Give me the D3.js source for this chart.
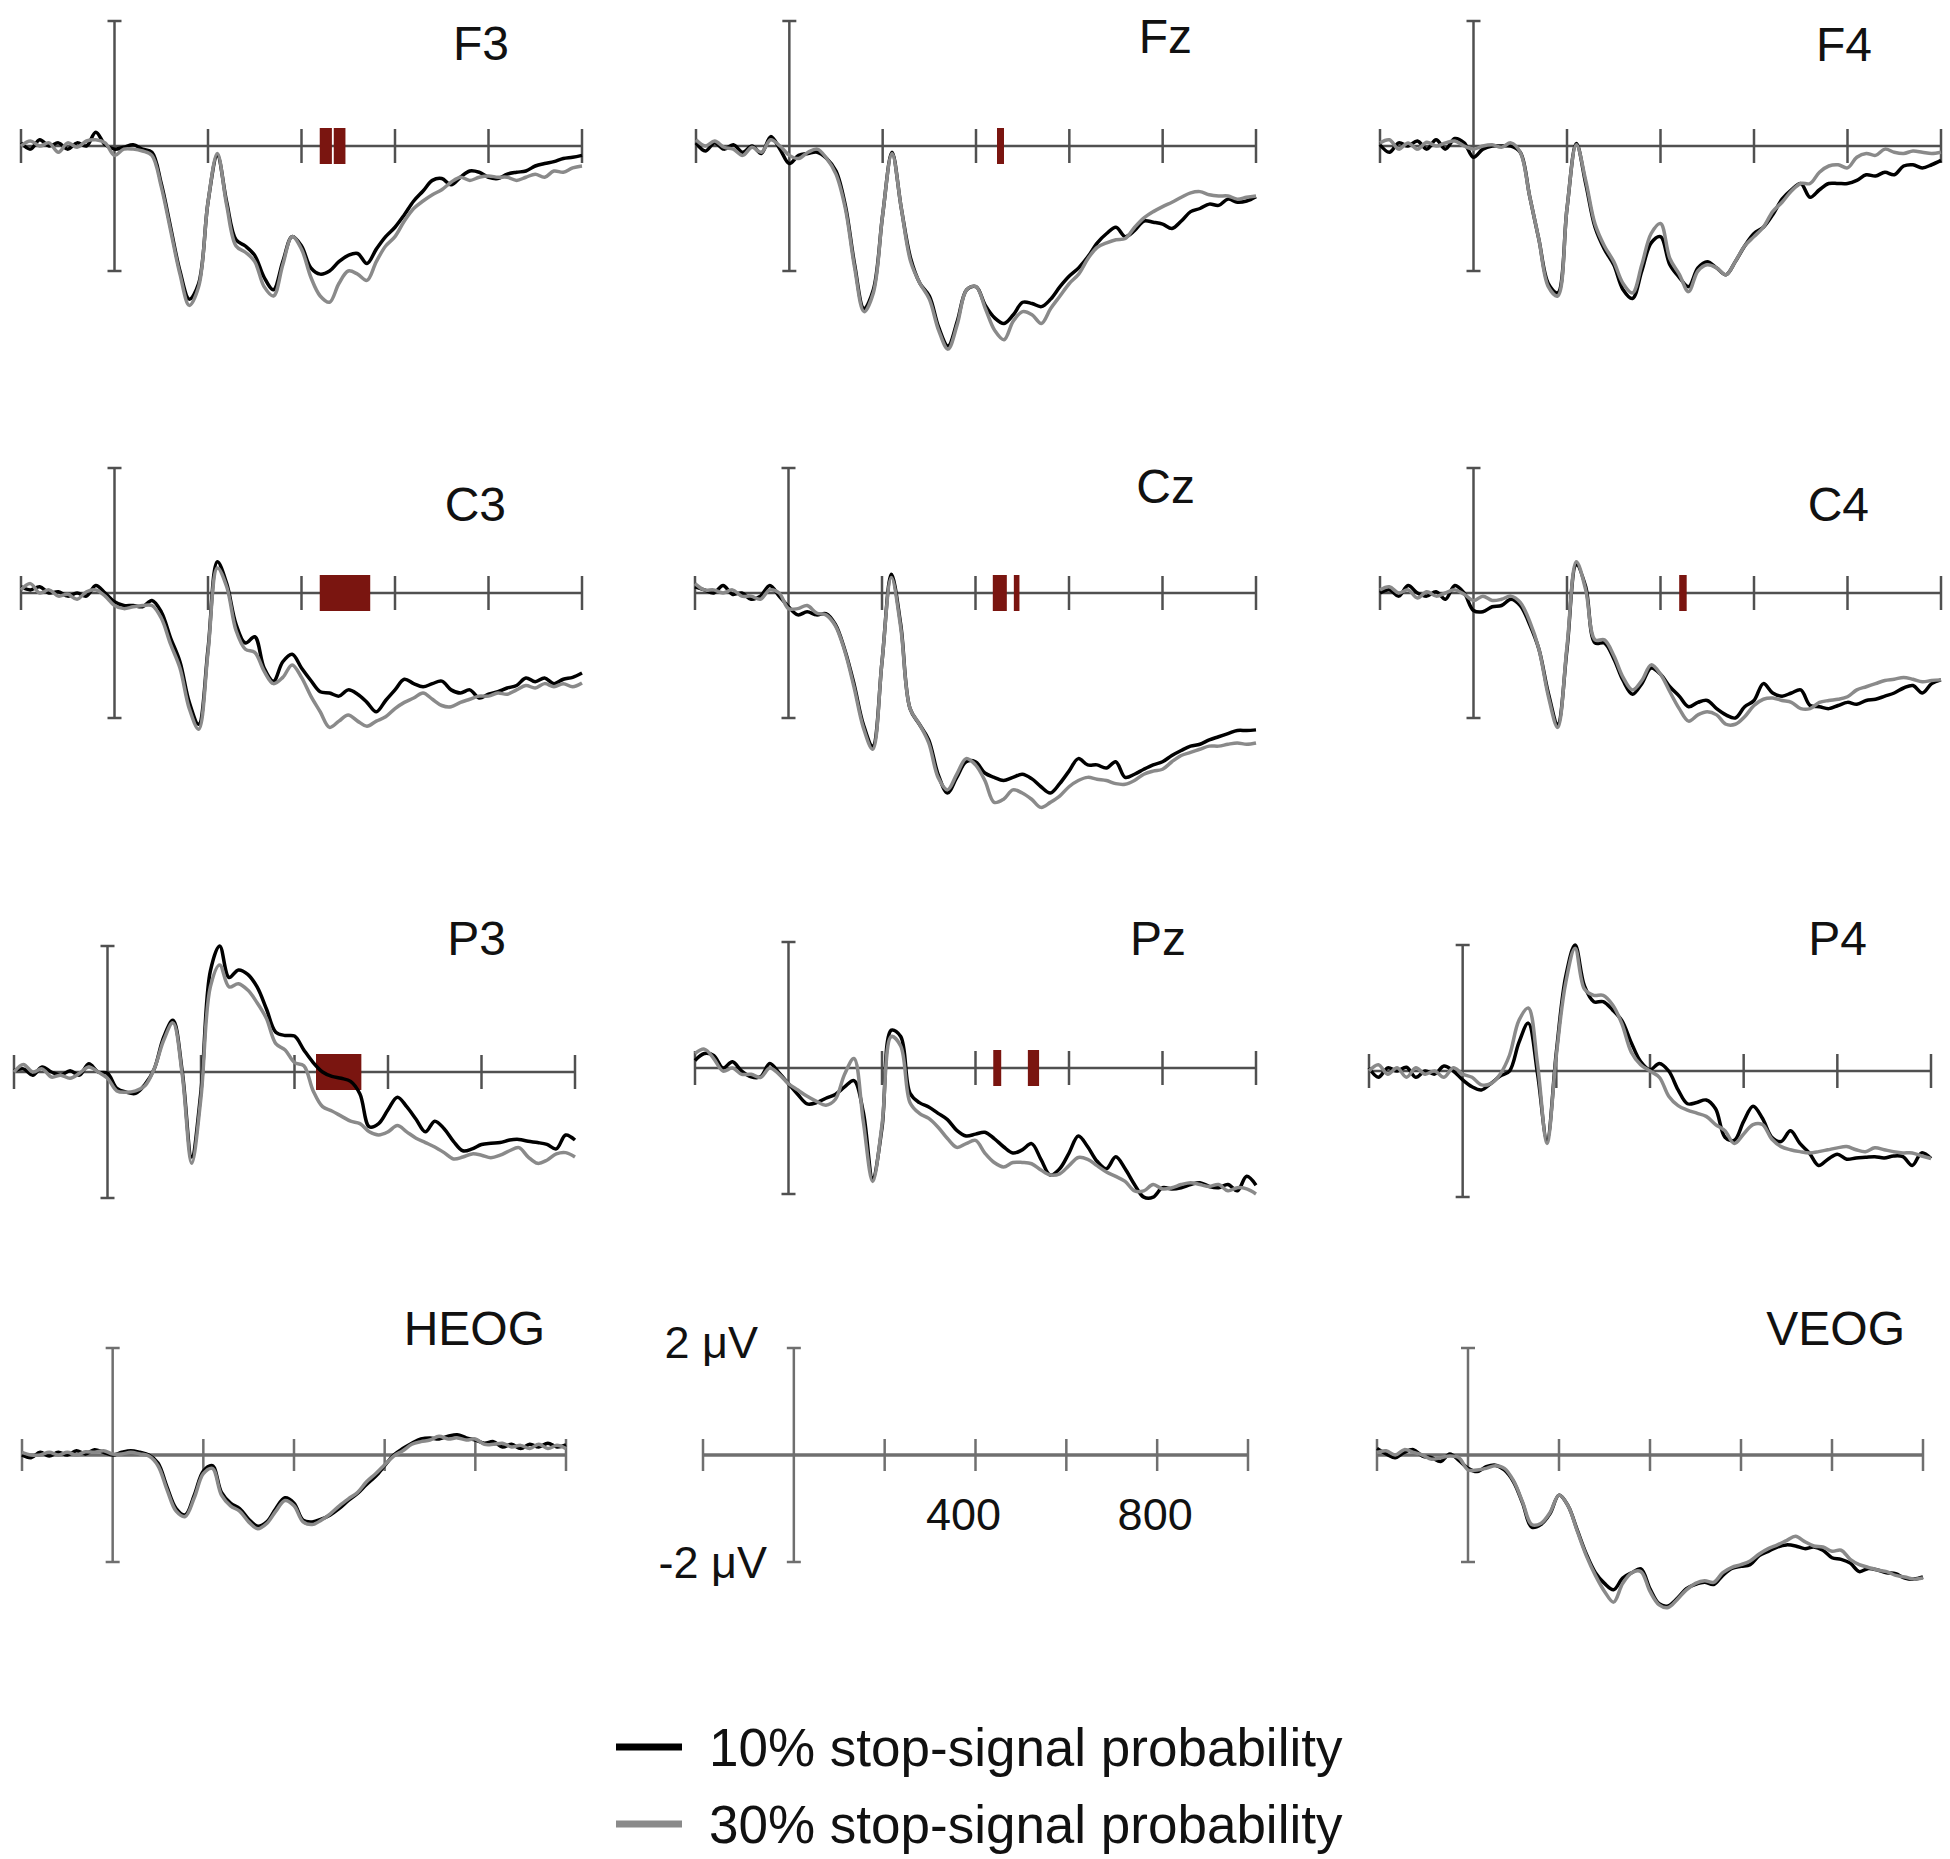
<!DOCTYPE html>
<html>
<head>
<meta charset="utf-8">
<script src="https://cdn.jsdelivr.net/npm/d3@7"></script>
<style>
  body { margin: 0; background: #fff; }
  text { font-family: "Liberation Sans", Arial, sans-serif; fill: #111; }
</style>
</head>
<body>
<div id="chart"></div>
<script>
// sampling grid (ms)
var times = [-200,-180,-160,-140,-120,-100,-80,-60,-40,-20,0,20,40,60,80,100,120,140,160,180,200,
  220,240,260,280,300,320,340,360,380,400,420,440,460,480,500,520,540,560,580,600,
  620,640,660,680,700,720,740,760,780,800,820,840,860,880,900,920,940,960,980,1000];

// amplitudes in microvolts, 10% = black, 30% = gray
var f3Ten = [0.05,-0.05,0.1,0,0.05,-0.05,0.05,0,0.22,0.02,-0.05,-0.02,0.02,-0.05,-0.1,-0.6,-1.3,-2.0,-2.45,-2.2,-0.9,
  -0.15,-0.9,-1.5,-1.6,-1.75,-2.1,-2.3,-1.85,-1.45,-1.6,-1.95,-2.05,-2.0,-1.85,-1.75,-1.72,-1.88,-1.65,-1.45,-1.3,
  -1.1,-0.88,-0.72,-0.55,-0.52,-0.62,-0.5,-0.4,-0.42,-0.5,-0.52,-0.45,-0.42,-0.4,-0.32,-0.28,-0.25,-0.2,-0.18,-0.15];
var f3Thirty = [0,0.08,0,0.05,-0.1,0.05,-0.02,0.08,0.1,0.05,-0.15,-0.05,-0.05,-0.08,-0.15,-0.65,-1.35,-2.05,-2.55,-2.25,-0.9,
  -0.12,-0.95,-1.6,-1.7,-1.85,-2.25,-2.4,-1.9,-1.45,-1.65,-2.1,-2.4,-2.5,-2.2,-2.0,-2.05,-2.15,-1.85,-1.6,-1.45,
  -1.2,-1.0,-0.88,-0.78,-0.7,-0.58,-0.5,-0.55,-0.5,-0.48,-0.5,-0.5,-0.55,-0.5,-0.45,-0.5,-0.4,-0.42,-0.35,-0.32];

var fzTen = [0.05,-0.08,0.05,-0.05,0.02,-0.1,0,-0.12,0.15,-0.05,-0.28,-0.15,-0.12,-0.1,-0.2,-0.4,-0.95,-1.9,-2.6,-2.3,-1.1,
  -0.1,-1.0,-1.8,-2.2,-2.4,-2.9,-3.2,-2.8,-2.3,-2.25,-2.55,-2.75,-2.84,-2.7,-2.5,-2.52,-2.57,-2.45,-2.25,-2.08,
  -1.95,-1.77,-1.55,-1.4,-1.3,-1.45,-1.35,-1.2,-1.22,-1.25,-1.32,-1.2,-1.05,-1.0,-0.93,-0.95,-0.85,-0.9,-0.88,-0.81];
var fzThirty = [0.1,0,0.08,-0.02,-0.05,-0.15,-0.02,-0.1,0.1,0,-0.15,-0.2,-0.1,-0.05,-0.2,-0.45,-1.0,-1.95,-2.65,-2.35,-1.1,
  -0.12,-1.0,-1.85,-2.2,-2.45,-2.95,-3.25,-2.85,-2.3,-2.25,-2.6,-2.95,-3.1,-2.8,-2.65,-2.7,-2.84,-2.6,-2.4,-2.2,
  -2.05,-1.8,-1.62,-1.55,-1.5,-1.48,-1.3,-1.15,-1.05,-0.97,-0.9,-0.82,-0.75,-0.73,-0.78,-0.8,-0.8,-0.85,-0.82,-0.8];

var f4Ten = [0.02,-0.1,0.05,0,0.08,-0.05,0.1,-0.05,0.12,0.05,-0.18,-0.05,0,0,0,-0.1,-0.8,-1.5,-2.2,-2.35,-1.0,
  0.04,-0.6,-1.3,-1.65,-1.9,-2.3,-2.44,-2.0,-1.55,-1.45,-1.9,-2.1,-2.25,-1.95,-1.85,-1.95,-2.06,-1.85,-1.6,-1.4,
  -1.3,-1.1,-0.85,-0.7,-0.6,-0.82,-0.7,-0.6,-0.6,-0.6,-0.55,-0.46,-0.48,-0.42,-0.46,-0.32,-0.3,-0.35,-0.3,-0.23];
var f4Thirty = [0.05,0.1,-0.05,0.05,-0.05,0.06,0,0.05,0.08,0,-0.05,0,0.02,-0.02,0.05,-0.1,-0.8,-1.5,-2.25,-2.4,-1.0,
  0.02,-0.55,-1.25,-1.6,-1.85,-2.2,-2.35,-1.9,-1.4,-1.24,-1.8,-2.05,-2.33,-2.0,-1.9,-1.95,-2.06,-1.85,-1.6,-1.45,
  -1.3,-1.05,-0.9,-0.72,-0.6,-0.6,-0.42,-0.32,-0.3,-0.35,-0.18,-0.12,-0.15,-0.05,-0.1,-0.12,-0.08,-0.1,-0.12,-0.1];

var c3Ten = [0.1,0.05,0.1,0,0.02,-0.05,0,-0.05,0.12,0,-0.14,-0.2,-0.2,-0.22,-0.12,-0.3,-0.72,-1.1,-1.75,-2.1,-0.9,
  0.5,0.15,-0.5,-0.8,-0.7,-1.2,-1.41,-1.1,-0.98,-1.2,-1.4,-1.58,-1.6,-1.65,-1.55,-1.62,-1.75,-1.9,-1.72,-1.55,
  -1.38,-1.45,-1.5,-1.45,-1.41,-1.55,-1.6,-1.55,-1.68,-1.62,-1.58,-1.52,-1.48,-1.36,-1.42,-1.36,-1.45,-1.38,-1.35,-1.28];
var c3Thirty = [0.05,0.15,0,0.05,-0.05,-0.02,-0.1,0.02,0.05,-0.05,-0.2,-0.25,-0.22,-0.2,-0.2,-0.4,-0.82,-1.2,-1.85,-2.18,-0.95,
  0.4,0.1,-0.6,-0.9,-0.95,-1.25,-1.45,-1.35,-1.15,-1.35,-1.65,-1.9,-2.15,-2.05,-1.95,-2.05,-2.13,-2.05,-1.98,-1.85,
  -1.75,-1.68,-1.6,-1.7,-1.8,-1.82,-1.75,-1.7,-1.65,-1.65,-1.6,-1.62,-1.55,-1.48,-1.52,-1.45,-1.5,-1.45,-1.5,-1.44];

var czTen = [0.1,0.05,0,0.12,-0.02,0,-0.1,-0.05,0.12,-0.05,-0.22,-0.35,-0.3,-0.35,-0.33,-0.5,-0.9,-1.45,-2.1,-2.45,-1.1,
  0.3,-0.5,-1.85,-2.1,-2.35,-2.9,-3.2,-2.95,-2.7,-2.7,-2.88,-2.95,-3.0,-2.95,-2.9,-2.97,-3.1,-3.2,-3.05,-2.85,
  -2.65,-2.75,-2.75,-2.8,-2.7,-2.95,-2.9,-2.82,-2.75,-2.7,-2.6,-2.52,-2.45,-2.42,-2.35,-2.3,-2.25,-2.2,-2.2,-2.19];
var czThirty = [0.15,0.05,0.05,0,0.05,-0.05,-0.05,-0.1,0.05,0,-0.25,-0.25,-0.2,-0.32,-0.35,-0.52,-0.92,-1.5,-2.15,-2.5,-1.1,
  0.25,-0.55,-1.85,-2.1,-2.4,-2.95,-3.15,-2.9,-2.65,-2.75,-3.0,-3.35,-3.3,-3.15,-3.2,-3.3,-3.43,-3.35,-3.25,-3.1,
  -3.0,-2.95,-2.98,-3.0,-3.05,-3.06,-3.0,-2.9,-2.85,-2.82,-2.7,-2.6,-2.55,-2.5,-2.45,-2.45,-2.42,-2.4,-2.42,-2.4];

var c4Ten = [0,0.05,-0.05,0.12,0,-0.05,0.02,-0.1,0.12,0,-0.28,-0.3,-0.22,-0.2,-0.1,-0.2,-0.5,-0.9,-1.6,-2.1,-0.9,
  0.45,0.1,-0.8,-0.8,-1.05,-1.4,-1.62,-1.45,-1.2,-1.3,-1.5,-1.65,-1.82,-1.75,-1.72,-1.85,-1.95,-2.0,-1.82,-1.72,
  -1.45,-1.6,-1.65,-1.6,-1.55,-1.8,-1.82,-1.85,-1.8,-1.75,-1.78,-1.72,-1.7,-1.65,-1.6,-1.52,-1.48,-1.6,-1.45,-1.39];
var c4Thirty = [0.05,0.1,0,0.05,-0.08,0.02,-0.05,0,0.05,-0.02,-0.12,-0.05,-0.12,-0.1,-0.05,-0.15,-0.45,-0.9,-1.65,-2.15,-0.85,
  0.5,0.05,-0.75,-0.75,-1.0,-1.35,-1.55,-1.4,-1.15,-1.3,-1.58,-1.85,-2.05,-1.95,-1.9,-1.95,-2.1,-2.1,-1.98,-1.8,
  -1.7,-1.68,-1.72,-1.75,-1.85,-1.85,-1.75,-1.72,-1.7,-1.66,-1.55,-1.5,-1.45,-1.4,-1.38,-1.35,-1.38,-1.42,-1.4,-1.39];

var p3Ten = [0.02,0.05,-0.05,0.08,0,-0.05,0.02,-0.05,0.13,0,-0.02,-0.26,-0.32,-0.34,-0.2,0.05,0.55,0.82,0,-1.35,-0.3,
  1.6,2.0,1.5,1.62,1.55,1.35,1.0,0.63,0.58,0.57,0.35,0.15,0,-0.07,-0.1,-0.15,-0.35,-0.87,-0.82,-0.6,
  -0.4,-0.55,-0.75,-0.95,-0.78,-0.9,-1.1,-1.25,-1.22,-1.15,-1.13,-1.12,-1.08,-1.07,-1.1,-1.12,-1.15,-1.22,-1.0,-1.08];
var p3Thirty = [0,0.12,0,0.05,-0.08,-0.05,-0.1,-0.02,0.08,0,-0.1,-0.3,-0.32,-0.3,-0.22,0.05,0.5,0.78,-0.05,-1.45,-0.4,
  1.35,1.7,1.35,1.4,1.3,1.1,0.85,0.45,0.35,0.15,0.1,-0.3,-0.55,-0.62,-0.7,-0.78,-0.82,-0.95,-1.0,-0.95,
  -0.85,-0.95,-1.05,-1.12,-1.19,-1.28,-1.38,-1.35,-1.3,-1.32,-1.36,-1.32,-1.25,-1.2,-1.35,-1.45,-1.4,-1.3,-1.28,-1.35];

var pzTen = [0.12,0.23,0.2,0,0.1,-0.05,-0.14,-0.14,0.07,-0.08,-0.25,-0.42,-0.57,-0.55,-0.48,-0.42,-0.3,-0.2,-0.7,-1.75,-0.95,
  0.6,0.5,-0.4,-0.55,-0.62,-0.72,-0.82,-0.99,-1.08,-1.05,-1.02,-1.12,-1.25,-1.35,-1.3,-1.2,-1.45,-1.7,-1.6,-1.35,
  -1.08,-1.25,-1.48,-1.6,-1.41,-1.6,-1.85,-2.05,-2.05,-1.9,-1.92,-1.9,-1.85,-1.82,-1.88,-1.9,-1.85,-1.95,-1.72,-1.86];
var pzThirty = [0.23,0.3,0.15,-0.05,0,-0.1,-0.1,-0.15,0,-0.1,-0.25,-0.35,-0.45,-0.53,-0.59,-0.5,-0.1,0.15,-0.85,-1.8,-0.9,
  0.5,0.35,-0.55,-0.72,-0.8,-0.94,-1.12,-1.26,-1.2,-1.15,-1.35,-1.5,-1.57,-1.5,-1.5,-1.52,-1.62,-1.7,-1.68,-1.55,
  -1.42,-1.45,-1.55,-1.65,-1.72,-1.8,-1.95,-1.95,-1.85,-1.92,-1.9,-1.85,-1.82,-1.85,-1.88,-1.85,-1.95,-1.9,-1.92,-2.0];

var p4Ten = [0.05,-0.1,0.05,0,0.06,-0.1,0,-0.05,0.08,0,-0.14,-0.25,-0.3,-0.2,-0.08,0,0.45,0.76,-0.05,-1.1,0.3,
  1.5,2.0,1.35,1.1,1.1,0.97,0.8,0.45,0.15,0.02,0.12,0,-0.3,-0.52,-0.5,-0.46,-0.6,-1.05,-1.1,-0.8,
  -0.56,-0.75,-1.05,-1.12,-0.95,-1.15,-1.3,-1.5,-1.4,-1.32,-1.4,-1.38,-1.37,-1.36,-1.38,-1.35,-1.36,-1.5,-1.3,-1.39];
var p4Thirty = [0,0.1,-0.05,0.05,-0.1,0.05,-0.05,0,-0.1,0.05,-0.05,-0.1,-0.22,-0.2,-0.05,0.25,0.8,1.0,0.1,-1.15,0.25,
  1.4,1.95,1.3,1.2,1.2,1.05,0.75,0.3,0.1,0,-0.1,-0.4,-0.55,-0.62,-0.67,-0.72,-0.85,-0.95,-1.15,-1.0,
  -0.85,-0.85,-1.08,-1.2,-1.25,-1.28,-1.3,-1.28,-1.25,-1.22,-1.2,-1.25,-1.28,-1.22,-1.25,-1.28,-1.3,-1.3,-1.35,-1.39];

var heogTen = [0,-0.05,0.05,-0.02,0.05,0,0.08,0.02,0.1,0.05,0,0.05,0.08,0.05,0,-0.15,-0.6,-1.0,-1.12,-0.75,-0.3,
  -0.2,-0.7,-0.9,-1.0,-1.2,-1.33,-1.25,-1.0,-0.8,-0.9,-1.22,-1.25,-1.2,-1.12,-1.0,-0.85,-0.72,-0.55,-0.4,-0.2,
  0,0.12,0.22,0.3,0.32,0.3,0.35,0.38,0.32,0.28,0.22,0.25,0.15,0.2,0.12,0.2,0.15,0.22,0.15,0.19];
var heogThirty = [0.05,0,0,0.05,0,0.05,0,0.06,0.05,0.08,0.02,0.02,0.05,0.02,-0.02,-0.2,-0.65,-1.05,-1.15,-0.8,-0.35,
  -0.25,-0.75,-0.95,-1.05,-1.25,-1.38,-1.28,-1.05,-0.85,-0.95,-1.25,-1.3,-1.22,-1.1,-0.95,-0.82,-0.7,-0.5,-0.35,-0.18,
  -0.02,0.08,0.2,0.25,0.28,0.35,0.3,0.32,0.28,0.3,0.2,0.2,0.22,0.15,0.18,0.12,0.2,0.12,0.18,0.12];

var veogTen = [0.12,0.02,-0.05,0.05,0.1,-0.02,-0.05,-0.12,0.02,-0.1,-0.25,-0.31,-0.22,-0.19,-0.28,-0.5,-0.9,-1.35,-1.3,-1.1,-0.75,
  -0.95,-1.4,-1.85,-2.2,-2.4,-2.52,-2.3,-2.2,-2.13,-2.5,-2.78,-2.82,-2.68,-2.5,-2.42,-2.38,-2.42,-2.25,-2.12,-2.08,
  -2.05,-1.88,-1.8,-1.72,-1.68,-1.7,-1.75,-1.72,-1.78,-1.92,-1.95,-2.02,-2.18,-2.12,-2.15,-2.2,-2.22,-2.3,-2.32,-2.28];
var veogThirty = [0.05,0.08,0,0.1,0.05,0,-0.08,-0.05,-0.02,-0.05,-0.28,-0.28,-0.25,-0.2,-0.25,-0.48,-0.88,-1.3,-1.28,-1.08,-0.75,
  -0.95,-1.42,-1.88,-2.25,-2.55,-2.75,-2.4,-2.2,-2.18,-2.55,-2.8,-2.85,-2.7,-2.52,-2.4,-2.35,-2.38,-2.2,-2.1,-2.05,
  -1.98,-1.85,-1.75,-1.68,-1.6,-1.52,-1.62,-1.7,-1.72,-1.8,-1.78,-1.95,-2.05,-2.1,-2.15,-2.18,-2.25,-2.28,-2.32,-2.3];

// significant intervals (ms)
var f3Sig = [[439, 465], [469, 494]];
var fzSig = [[445, 460]];
var c3Sig = [[439, 547]];
var czSig = [[437, 467], [482, 494]];
var c4Sig = [[440, 456]];
var p3Sig = [[446, 543]];
var pzSig = [[438, 455], [512, 536]];

var xTicks = [-200, 200, 400, 600, 800, 1000];
var calLabels = [400, 800];
var legendLabels = ["10% stop-signal probability", "30% stop-signal probability"];
var conditionColors = ["#000000", "#8a8a8a"];

// layout for each electrode panel
var panels = [
  {name: "F3", ten: f3Ten, thirty: f3Thirty, sig: f3Sig, x0: 21, x1: 582, base: 146, half: 125, tx: 509, ty: 60, small: false},
  {name: "Fz", ten: fzTen, thirty: fzThirty, sig: fzSig, x0: 696, x1: 1256, base: 146, half: 125, tx: 1192, ty: 53, small: false},
  {name: "F4", ten: f4Ten, thirty: f4Thirty, sig: [], x0: 1380, x1: 1941, base: 146, half: 125, tx: 1872, ty: 61, small: false},
  {name: "C3", ten: c3Ten, thirty: c3Thirty, sig: c3Sig, x0: 21, x1: 582, base: 593, half: 125, tx: 506, ty: 521, small: false},
  {name: "Cz", ten: czTen, thirty: czThirty, sig: czSig, x0: 695, x1: 1256, base: 593, half: 125, tx: 1195, ty: 503, small: false},
  {name: "C4", ten: c4Ten, thirty: c4Thirty, sig: c4Sig, x0: 1380, x1: 1941, base: 593, half: 125, tx: 1869, ty: 521, small: false},
  {name: "P3", ten: p3Ten, thirty: p3Thirty, sig: p3Sig, x0: 14, x1: 575, base: 1072, half: 126, tx: 506, ty: 955, small: false},
  {name: "Pz", ten: pzTen, thirty: pzThirty, sig: pzSig, x0: 695, x1: 1256, base: 1068, half: 126, tx: 1186, ty: 955, small: false},
  {name: "P4", ten: p4Ten, thirty: p4Thirty, sig: [], x0: 1369, x1: 1931, base: 1071, half: 126, tx: 1867, ty: 955, small: false},
  {name: "HEOG", ten: heogTen, thirty: heogThirty, sig: [], x0: 22, x1: 566, base: 1455, half: 107, tx: 545, ty: 1345, small: true},
  {name: "VEOG", ten: veogTen, thirty: veogThirty, sig: [], x0: 1377, x1: 1923, base: 1455, half: 107, tx: 1905, ty: 1345, small: true}
];

var svg = d3.select("#chart").append("svg")
    .attr("width", 1950)
    .attr("height", 1859)
    .style("background", "#fff");

function drawAxes(g, x, y, p) {
    var axisColor = p.small ? "#6f6f6f" : "#505050";
    var axisWidth = p.small ? 3.5 : 2.5;
    var tickLen = p.small ? 16 : 17;

    g.append("line")
        .attr("x1", x(-200)).attr("x2", x(1000))
        .attr("y1", y(0)).attr("y2", y(0))
        .attr("stroke", axisColor).attr("stroke-width", axisWidth);

    g.selectAll(".tick")
        .data(xTicks)
        .enter().append("line")
        .attr("x1", d => x(d)).attr("x2", d => x(d))
        .attr("y1", y(0) - tickLen).attr("y2", y(0) + tickLen)
        .attr("stroke", axisColor).attr("stroke-width", 2.5);

    g.append("line")
        .attr("x1", x(0)).attr("x2", x(0))
        .attr("y1", y(2)).attr("y2", y(-2))
        .attr("stroke", axisColor).attr("stroke-width", 2.5);
    [2, -2].forEach(function (v) {
        g.append("line")
            .attr("x1", x(0) - 7).attr("x2", x(0) + 7)
            .attr("y1", y(v)).attr("y2", y(v))
            .attr("stroke", axisColor).attr("stroke-width", 2.5);
    });
}

panels.forEach(function (p) {
    var x = d3.scaleLinear().domain([-200, 1000]).range([p.x0, p.x1]);
    var y = d3.scaleLinear().domain([-2, 2]).range([p.base + p.half, p.base - p.half]);
    var g = svg.append("g");

    drawAxes(g, x, y, p);

    // significance markers
    g.selectAll(".sig")
        .data(p.sig)
        .enter().append("rect")
        .attr("x", d => x(d[0]))
        .attr("width", d => x(d[1]) - x(d[0]))
        .attr("y", y(0) - 18)
        .attr("height", 36)
        .attr("fill", "#7a1510");

    var line = d3.line()
        .x((d, i) => x(times[i]))
        .y(d => y(d))
        .curve(d3.curveCatmullRom.alpha(0.5));

    g.append("path")
        .attr("d", line(p.ten))
        .attr("fill", "none")
        .attr("stroke", conditionColors[0])
        .attr("stroke-width", 3.5)
        .attr("stroke-linejoin", "round");
    g.append("path")
        .attr("d", line(p.thirty))
        .attr("fill", "none")
        .attr("stroke", conditionColors[1])
        .attr("stroke-width", 3.5)
        .attr("stroke-linejoin", "round");

    g.append("text")
        .text(p.name)
        .attr("x", p.tx)
        .attr("y", p.ty)
        .attr("text-anchor", "end")
        .attr("font-size", 48);
});

// calibration panel
var calX = d3.scaleLinear().domain([-200, 1000]).range([703, 1248]);
var calY = d3.scaleLinear().domain([-2, 2]).range([1562, 1348]);
var cal = svg.append("g");
drawAxes(cal, calX, calY, {small: true});
cal.selectAll(".cal-label")
    .data(calLabels)
    .enter().append("text")
    .text(d => d)
    .attr("x", d => calX(d) - (d === 400 ? 12 : 2))
    .attr("y", 1530)
    .attr("text-anchor", "middle")
    .attr("font-size", 45);
cal.append("text").text("2 \u03bcV")
    .attr("x", 758).attr("y", 1358)
    .attr("text-anchor", "end").attr("font-size", 45);
cal.append("text").text("-2 \u03bcV")
    .attr("x", 767).attr("y", 1578)
    .attr("text-anchor", "end").attr("font-size", 45);

// legend
var legend = svg.append("g");
legendLabels.forEach(function (label, i) {
    var ly = 1747 + i * 77;
    legend.append("line")
        .attr("x1", 616).attr("x2", 682)
        .attr("y1", ly).attr("y2", ly)
        .attr("stroke", conditionColors[i])
        .attr("stroke-width", 7);
    legend.append("text")
        .text(label)
        .attr("x", 709)
        .attr("y", ly + 19)
        .attr("font-size", 53);
});
</script>
</body>
</html>
